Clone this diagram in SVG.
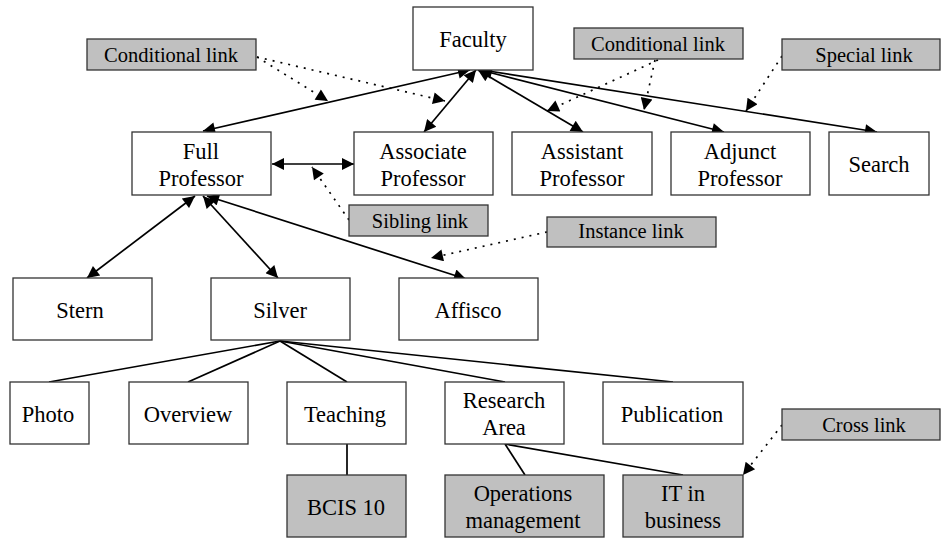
<svg xmlns="http://www.w3.org/2000/svg" width="941" height="539" viewBox="0 0 941 539">
<defs>
<marker id="ah" viewBox="0 0 10 10" refX="10" refY="5" markerWidth="15" markerHeight="12" markerUnits="userSpaceOnUse" orient="auto-start-reverse"><path d="M0,0 L10,5 L0,10 z" fill="#000"/></marker>
<style>
.n{fill:#fff;stroke:#333;stroke-width:1.3}
.g{fill:#c0c0c0;stroke:#333;stroke-width:1.3}
text{font-family:"Liberation Serif","Times New Roman",serif;fill:#000;text-anchor:middle}
.t{font-size:22.5px}
.l{font-size:20.5px}
.c{stroke:#000;stroke-width:1.7;fill:none}
.a{marker-start:url(#ah);marker-end:url(#ah)}
.d{stroke:#000;stroke-width:1.7;fill:none;stroke-dasharray:2 6;marker-end:url(#ah)}
</style>
</defs>
<rect width="941" height="539" fill="#fff"/>
<g id="connectors">
<line class="c a" x1="470" y1="70" x2="203" y2="131"/>
<line class="c a" x1="476" y1="70" x2="424" y2="132"/>
<line class="c a" x1="478" y1="70" x2="583" y2="132"/>
<line class="c a" x1="480" y1="70" x2="724" y2="132"/>
<line class="c" x1="482" y1="70" x2="877" y2="132" marker-end="url(#ah)"/>
<line class="c a" x1="272" y1="164" x2="354" y2="164"/>
<line class="c a" x1="195" y1="196" x2="87" y2="278"/>
<line class="c a" x1="203" y1="196" x2="278" y2="278"/>
<line class="c a" x1="207" y1="196" x2="466" y2="279"/>
<line class="c" x1="280" y1="341" x2="49" y2="382"/>
<line class="c" x1="280" y1="341" x2="188" y2="382"/>
<line class="c" x1="280" y1="341" x2="347" y2="382"/>
<line class="c" x1="280" y1="341" x2="505" y2="382"/>
<line class="c" x1="280" y1="341" x2="673" y2="382"/>
<line class="c" x1="347" y1="444" x2="347" y2="475"/>
<line class="c" x1="505" y1="444" x2="525" y2="475"/>
<line class="c" x1="505" y1="444" x2="683" y2="475"/>
<line class="d" x1="257" y1="57" x2="328" y2="101"/>
<line class="d" x1="257" y1="57" x2="445" y2="101"/>
<line class="d" x1="658" y1="60" x2="547" y2="111"/>
<line class="d" x1="655" y1="60" x2="644" y2="110"/>
<line class="d" x1="782" y1="56" x2="746" y2="111"/>
<line class="d" x1="349" y1="220" x2="312" y2="167"/>
<line class="d" x1="547" y1="232" x2="431" y2="258"/>
<line class="d" x1="782" y1="425" x2="743" y2="475"/>
</g>
<g id="faculty"><rect class="n" x="413" y="7" width="120" height="63"/><text class="t" x="473" y="47">Faculty</text></g>
<g id="cond1"><rect class="g" x="87" y="39" width="169" height="31"/><text class="l" x="171" y="62">Conditional link</text></g>
<g id="cond2"><rect class="g" x="574" y="28" width="169" height="31"/><text class="l" x="658" y="51">Conditional link</text></g>
<g id="special"><rect class="g" x="782" y="39" width="158" height="31"/><text class="l" x="864" y="62">Special link</text></g>
<g id="full"><rect class="n" x="132" y="132" width="139" height="63"/><text class="t" x="201" y="159">Full</text><text class="t" x="201" y="186">Professor</text></g>
<g id="associate"><rect class="n" x="354" y="132" width="139" height="63"/><text class="t" x="423" y="159">Associate</text><text class="t" x="423" y="186">Professor</text></g>
<g id="assistant"><rect class="n" x="512" y="132" width="140" height="63"/><text class="t" x="582" y="159">Assistant</text><text class="t" x="582" y="186">Professor</text></g>
<g id="adjunct"><rect class="n" x="671" y="132" width="139" height="63"/><text class="t" x="740" y="159">Adjunct</text><text class="t" x="740" y="186">Professor</text></g>
<g id="search"><rect class="n" x="829" y="132" width="100" height="63"/><text class="t" x="879" y="172">Search</text></g>
<g id="sibling"><rect class="g" x="349" y="205" width="139" height="31"/><text class="l" x="420" y="228">Sibling link</text></g>
<g id="instance"><rect class="g" x="547" y="217" width="169" height="30"/><text class="l" x="631" y="238">Instance link</text></g>
<g id="stern"><rect class="n" x="13" y="278" width="139" height="62"/><text class="t" x="80" y="318">Stern</text></g>
<g id="silver"><rect class="n" x="211" y="278" width="139" height="62"/><text class="t" x="280" y="318">Silver</text></g>
<g id="affisco"><rect class="n" x="399" y="278" width="139" height="62"/><text class="t" x="468" y="318">Affisco</text></g>
<g id="photo"><rect class="n" x="10" y="382" width="79" height="62"/><text class="t" x="48" y="422">Photo</text></g>
<g id="overview"><rect class="n" x="129" y="382" width="119" height="62"/><text class="t" x="188" y="422">Overview</text></g>
<g id="teaching"><rect class="n" x="287" y="382" width="119" height="62"/><text class="t" x="345" y="422">Teaching</text></g>
<g id="research"><rect class="n" x="445" y="382" width="119" height="62"/><text class="t" x="504" y="408">Research</text><text class="t" x="504" y="435">Area</text></g>
<g id="publication"><rect class="n" x="603" y="382" width="140" height="62"/><text class="t" x="672" y="422">Publication</text></g>
<g id="cross"><rect class="g" x="782" y="409" width="158" height="31"/><text class="l" x="864" y="432">Cross link</text></g>
<g id="bcis"><rect class="g" x="287" y="475" width="119" height="62"/><text class="t" x="346" y="515">BCIS 10</text></g>
<g id="operations"><rect class="g" x="445" y="475" width="159" height="62"/><text class="t" x="523" y="501">Operations</text><text class="t" x="523" y="528">management</text></g>
<g id="itbusiness"><rect class="g" x="623" y="475" width="120" height="62"/><text class="t" x="683" y="501">IT in</text><text class="t" x="683" y="528">business</text></g>
</svg>
